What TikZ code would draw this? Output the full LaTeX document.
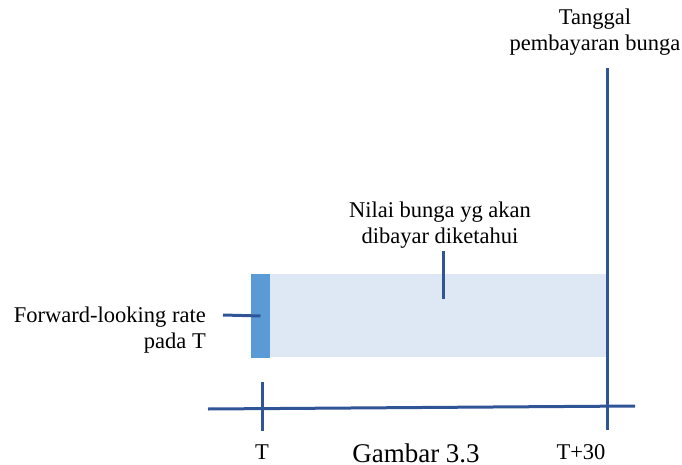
\documentclass[tikz,border=0pt]{standalone}
\usepackage{fontspec}
\setmainfont{Liberation Serif}
\definecolor{lineblue}{HTML}{2F5597}
\definecolor{barblue}{HTML}{5B9BD5}
\definecolor{paleblue}{HTML}{DEE8F5}
\begin{document}
\begin{tikzpicture}[x=1pt,y=-1pt,
  ln/.style={draw=lineblue,line width=3pt},
  lbl/.style={font=\fontsize{22.5}{26}\selectfont,inner sep=0pt,align=center}]
\useasboundingbox (0,0) rectangle (682,465);
\fill[paleblue] (268,274) rectangle (606,357);
\node[fill=barblue,minimum width=19pt,minimum height=84pt,inner sep=0pt] (bar) at (260.5,316) {};
\coordinate (fl) at (223,315);
\draw[ln] (fl) -- (bar.center);
\coordinate (axl) at (208,409);
\coordinate (axr) at (635,406);
\draw[ln] (axl) -- (axr);
\coordinate (tt) at (262,382);
\coordinate (tb) at (262,431);
\draw[ln] (tt) -- (tb);
\coordinate (pt) at (607,68);
\coordinate (pb) at (607,430);
\draw[ln] (pt) -- (pb);
\coordinate (kt) at (443,251);
\coordinate (kb) at (443,299);
\draw[ln] (kt) -- (kb);
\node[lbl] (pay) at (595,32) {Tanggal\\pembayaran bunga};
\node[lbl] (nilai) at (440,225) {Nilai bunga yg akan\\dibayar diketahui};
\node[lbl,anchor=east,align=right] (fwd) at (206,330) {Forward-looking rate\\pada T};
\node[lbl] (T) at (262,452) {T};
\node[lbl] (T30) at (581,452) {T+30};
\node[font=\fontsize{27}{28}\selectfont,inner sep=0pt,anchor=base] (gam) at (416,462) {Gambar 3.3};
\end{tikzpicture}
\end{document}
